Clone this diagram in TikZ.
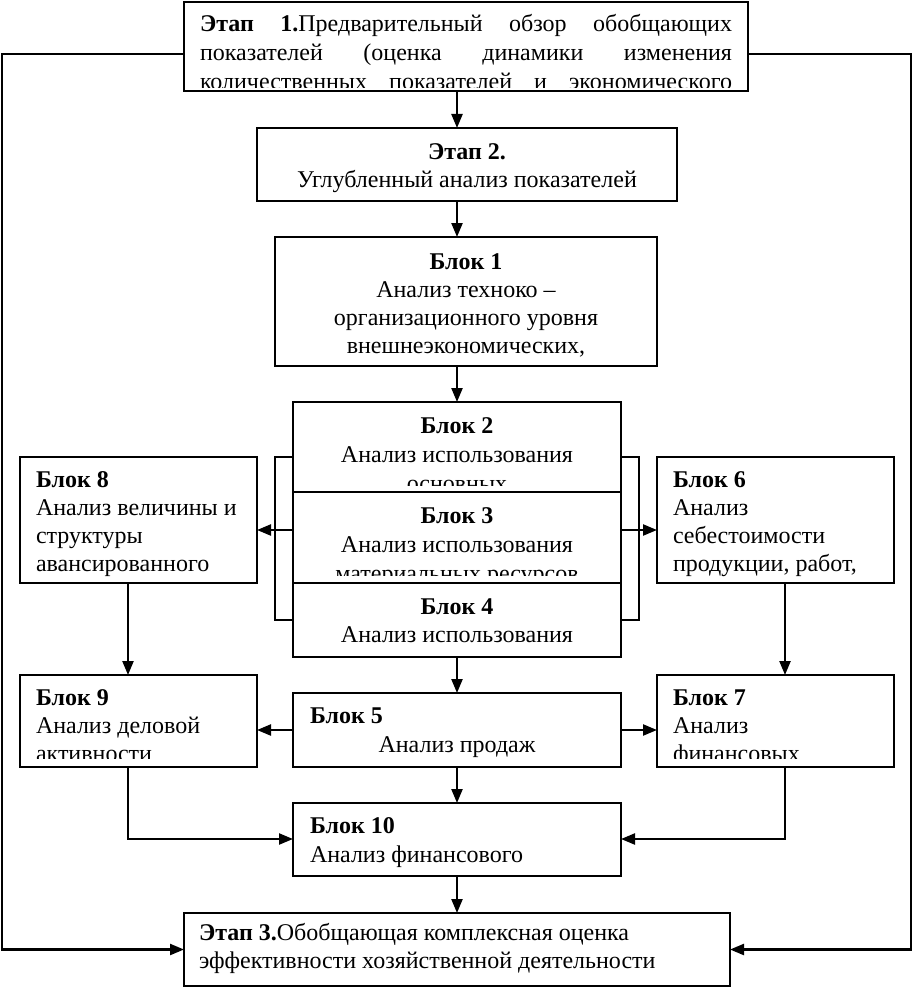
\documentclass[tikz,border=0pt]{standalone}
\usepackage{fontspec}
\setmainfont{Liberation Serif}
\usetikzlibrary{arrows.meta}
\begin{document}
\begin{tikzpicture}[x=1pt,y=-1pt,
  boxst/.style={draw, line width=2.7pt, anchor=north west, inner sep=0pt, outer sep=0pt},
  txt/.style={inner sep=0pt, outer sep=0pt, font=\fontsize{24}{28}\selectfont},
  ctxt/.style={txt, anchor=base},
  ltxt/.style={txt, anchor=base west},
  conn/.style={line width=2.3pt},
  arr/.style={conn, -{Triangle[length=14pt,width=11pt]}}
]
\useasboundingbox (0,0) rectangle (914,987);

% boxes
\node[boxst, minimum width=564pt, minimum height=89pt] (e1) at (184,2) {};
\node[boxst, minimum width=420pt, minimum height=73pt] (e2) at (257,128) {};
\node[boxst, minimum width=382pt, minimum height=129pt] (b1) at (275,237) {};
\node[boxst, minimum width=328pt, minimum height=90pt] (b2) at (293,402) {};
\node[boxst, minimum width=328pt, minimum height=91pt] (b3) at (293,492) {};
\node[boxst, minimum width=328pt, minimum height=74pt] (b4) at (293,583) {};
\node[boxst, minimum width=237pt, minimum height=126pt] (b8) at (20,457) {};
\node[boxst, minimum width=237pt, minimum height=126pt] (b6) at (657,457) {};
\node[boxst, minimum width=237pt, minimum height=92pt] (b9) at (20,675) {};
\node[boxst, minimum width=237pt, minimum height=92pt] (b7) at (657,675) {};
\node[boxst, minimum width=328pt, minimum height=74pt] (b5) at (293,693) {};
\node[boxst, minimum width=328pt, minimum height=73pt] (b10) at (293,803) {};
\node[boxst, minimum width=546pt, minimum height=73pt] (e3) at (184,913) {};

% texts
\begin{scope}
\clip (184,2) rectangle (748,88);
\node[ltxt] (t1a) at (200,32) {\makebox[532pt][s]{\textbf{Этап 1.}Предварительный обзор обобщающих}};
\node[ltxt] (t1b) at (200,61) {\makebox[532pt][s]{показателей (оценка динамики изменения}};
\node[ltxt] (t1c) at (200,90) {\makebox[532pt][s]{количественных показателей и экономического}};
\end{scope}

\node[ctxt] (t2a) at (467,160) {\textbf{Этап 2.}};
\node[ctxt] (t2b) at (467,188) {Углубленный анализ показателей};

\node[ctxt] (tb1a) at (466,269) {\textbf{Блок 1}};
\node[ctxt] (tb1b) at (466,297) {Анализ техноко –};
\node[ctxt] (tb1c) at (466,325) {организационного уровня};
\node[ctxt] (tb1d) at (466,353) {внешнеэкономических,};

\begin{scope}
\clip (293,402) rectangle (621,485);
\node[ctxt] (tb2a) at (457,433) {\textbf{Блок 2}};
\node[ctxt] (tb2b) at (457,462) {Анализ использования};
\node[ctxt] (tb2c) at (457,491) {основных};
\end{scope}

\begin{scope}
\clip (293,492) rectangle (621,575);
\node[ctxt] (tb3a) at (457,523) {\textbf{Блок 3}};
\node[ctxt] (tb3b) at (457,552) {Анализ использования};
\node[ctxt] (tb3c) at (457,581) {материальных ресурсов};
\end{scope}

\node[ctxt] (tb4a) at (457,614) {\textbf{Блок 4}};
\node[ctxt] (tb4b) at (457,642) {Анализ использования};

\node[ltxt] (tb8a) at (36,487) {\textbf{Блок 8}};
\node[ltxt] (tb8b) at (36,515) {Анализ величины и};
\node[ltxt] (tb8c) at (36,543) {структуры};
\node[ltxt] (tb8d) at (36,571) {авансированного};

\node[ltxt] (tb6a) at (673,487) {\textbf{Блок 6}};
\node[ltxt] (tb6b) at (673,515) {Анализ};
\node[ltxt] (tb6c) at (673,543) {себестоимости};
\node[ltxt] (tb6d) at (673,571) {продукции, работ,};

\begin{scope}
\clip (20,675) rectangle (257,758);
\node[ltxt] (tb9a) at (36,705) {\textbf{Блок 9}};
\node[ltxt] (tb9b) at (36,733) {Анализ деловой};
\node[ltxt] (tb9c) at (36,761) {активности};
\end{scope}

\begin{scope}
\clip (657,675) rectangle (894,758);
\node[ltxt] (tb7a) at (673,705) {\textbf{Блок 7}};
\node[ltxt] (tb7b) at (673,733) {Анализ};
\node[ltxt] (tb7c) at (673,761) {финансовых};
\end{scope}

\node[ltxt] (tb5a) at (310,723) {\textbf{Блок 5}};
\node[ctxt] (tb5b) at (457,752) {Анализ продаж};

\node[ltxt] (tb10a) at (310,833) {\textbf{Блок 10}};
\node[ltxt] (tb10b) at (310,862) {Анализ финансового};

\node[ltxt] (te3a) at (199,940) {\textbf{Этап 3.}Обобщающая комплексная оценка};
\node[ltxt] (te3b) at (199,968) {эффективности хозяйственной деятельности};

% helper coordinates
\coordinate (cx) at (457,0);
\coordinate (ly) at (0,54);
\coordinate (lx) at (2,0);
\coordinate (rx) at (911,0);
\coordinate (mid) at (0,530);
\coordinate (bt) at (0,457);
\coordinate (bb) at (0,620);
\coordinate (blx) at (275,0);
\coordinate (brx) at (639,0);
\coordinate (b10y) at (0,839);
\coordinate (x128) at (128,0);
\coordinate (x785) at (785,0);

% connectors
\draw[arr] (e1.south -| cx) -- (e2.north -| cx);
\draw[arr] (e2.south -| cx) -- (b1.north -| cx);
\draw[arr] (b1.south -| cx) -- (b2.north -| cx);
\draw[arr] (b4.south -| cx) -- (b5.north -| cx);
\draw[arr] (b5.south -| cx) -- (b10.north -| cx);
\draw[arr] (b10.south -| cx) -- (e3.north -| cx);

\draw[conn] (b2.west |- bt) -- (blx |- bt) -- (blx |- bb) -- (b4.west |- bb);
\draw[conn] (b2.east |- bt) -- (brx |- bt) -- (brx |- bb) -- (b4.east |- bb);
\draw[arr] (b3.west |- mid) -- (b8.east |- mid);
\draw[arr] (b3.east |- mid) -- (b6.west |- mid);

\draw[arr] (b8.south -| x128) -- (b9.north -| x128);
\draw[arr] (b6.south -| x785) -- (b7.north -| x785);

\draw[arr] (b5.west) -- (b9.east |- b5.west);
\draw[arr] (b5.east) -- (b7.west |- b5.east);

\draw[arr] (b9.south -| x128) -- (x128 |- b10y) -- (b10.west |- b10y);
\draw[arr] (b7.south -| x785) -- (x785 |- b10y) -- (b10.east |- b10y);

\draw[arr] (e1.west |- ly) -- (lx |- ly) -- (lx |- e3.west) -- (e3.west);
\draw[arr] (e1.east |- ly) -- (rx |- ly) -- (rx |- e3.east) -- (e3.east);
\end{tikzpicture}
\end{document}
